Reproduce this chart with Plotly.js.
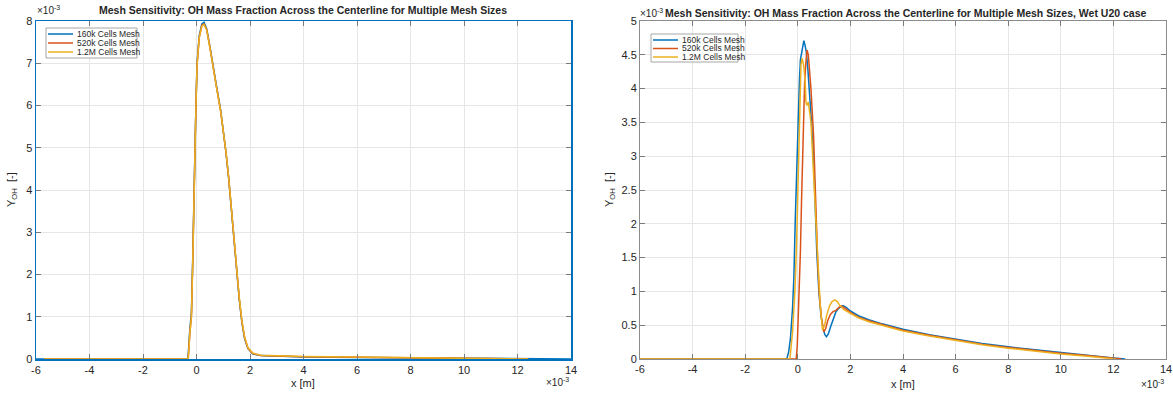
<!DOCTYPE html>
<html>
<head>
<meta charset="utf-8">
<script src="https://cdn.plot.ly/plotly-3.0.1.min.js"></script>
<style>html,body{margin:0;padding:0;background:#fff;}#chart{width:1173px;height:394px;}</style>
</head>
<body>
<div id="chart"></div>
<script>
// ---- Data (x in 1e-3 m, Y_OH in 1e-3) ----
// Left chart: Mesh sensitivity (dry case)
const leftX160 = [-6, -0.32, -0.25, -0.19, -0.14, -0.1, -0.05, -0.02, 0.02, 0.1, 0.2, 0.28, 0.38, 0.5, 0.6, 0.75, 0.9, 1.0, 1.1, 1.2, 1.3, 1.4, 1.5, 1.6, 1.7, 1.8, 1.92, 2.1, 2.4, 3, 4, 6, 8, 10, 12, 14];
const leftY160 = [0, 0, 0.7, 1.1, 2.4, 4.0, 5.2, 6.0, 7.0, 7.65, 7.93, 7.97, 7.82, 7.4, 6.98, 6.45, 5.9, 5.45, 4.9, 4.3, 3.55, 2.8, 2.1, 1.4, 0.85, 0.48, 0.25, 0.12, 0.08, 0.065, 0.05, 0.035, 0.025, 0.015, 0.005, 0];
const leftX520 = [-5.7, -0.31, -0.25, -0.19, -0.14, -0.1, -0.05, -0.02, 0.02, 0.1, 0.2, 0.28, 0.38, 0.5, 0.6, 0.75, 0.9, 1.0, 1.1, 1.2, 1.3, 1.4, 1.5, 1.6, 1.7, 1.8, 1.92, 2.1, 2.4, 3, 4, 6, 8, 10, 12, 12.4];
const leftY520 = [0, 0, 0.6, 1.0, 2.3, 3.9, 5.1, 6.0, 6.95, 7.6, 7.9, 7.93, 7.8, 7.38, 6.96, 6.43, 5.88, 5.44, 4.9, 4.3, 3.56, 2.82, 2.12, 1.42, 0.87, 0.5, 0.26, 0.13, 0.085, 0.07, 0.055, 0.04, 0.03, 0.02, 0.01, 0];
const leftX12M = [-5.7, -0.31, -0.25, -0.19, -0.14, -0.1, -0.05, -0.02, 0.02, 0.1, 0.2, 0.28, 0.38, 0.5, 0.6, 0.75, 0.9, 1.0, 1.1, 1.2, 1.3, 1.4, 1.5, 1.6, 1.7, 1.8, 1.92, 2.1, 2.4, 3, 4, 6, 8, 10, 12, 12.4];
const leftY12M = [0, 0, 0.6, 1.0, 2.3, 3.9, 5.1, 6.0, 6.95, 7.6, 7.88, 7.92, 7.79, 7.37, 6.95, 6.42, 5.88, 5.44, 4.91, 4.32, 3.58, 2.84, 2.14, 1.44, 0.89, 0.52, 0.27, 0.14, 0.09, 0.075, 0.06, 0.045, 0.032, 0.022, 0.012, 0];

// Right chart: Wet U20 case
const rightX160 = [-6, -0.42, -0.35, -0.28, -0.2, -0.15, -0.1, -0.06, -0.02, 0.02, 0.06, 0.1, 0.15, 0.2, 0.23, 0.27, 0.32, 0.38, 0.45, 0.52, 0.6, 0.66, 0.72, 0.8, 0.88, 0.96, 1.03, 1.09, 1.16, 1.25, 1.35, 1.45, 1.55, 1.65, 1.72, 1.85, 2.0, 2.3, 2.7, 3.2, 4.0, 5.0, 6.0, 7.0, 8.0, 9.0, 10.0, 11.0, 12.0, 12.45];
const rightY160 = [0, 0, 0.1, 0.3, 0.75, 1.2, 2.0, 2.6, 3.0, 3.6, 4.1, 4.43, 4.55, 4.62, 4.71, 4.65, 4.55, 4.3, 3.95, 3.5, 2.97, 2.2, 1.6, 1.0, 0.65, 0.45, 0.36, 0.33, 0.37, 0.48, 0.6, 0.7, 0.75, 0.78, 0.79, 0.76, 0.71, 0.64, 0.58, 0.52, 0.44, 0.36, 0.29, 0.23, 0.18, 0.135, 0.095, 0.055, 0.015, 0];
const rightX520 = [-6, -0.06, -0.02, 0.02, 0.06, 0.1, 0.14, 0.18, 0.22, 0.26, 0.3, 0.35, 0.4, 0.45, 0.5, 0.55, 0.6, 0.65, 0.7, 0.76, 0.82, 0.9, 0.99, 1.06, 1.14, 1.24, 1.34, 1.45, 1.55, 1.66, 1.8, 2.0, 2.3, 2.7, 3.2, 4, 5, 6, 7, 8, 9, 10, 11, 12, 12.3];
const rightY520 = [0, 0, 0.2, 0.6, 1.0, 1.6, 2.3, 3.0, 3.57, 4.1, 4.35, 4.57, 4.5, 4.3, 4.0, 3.65, 3.3, 2.7, 2.07, 1.4, 0.95, 0.6, 0.4, 0.45, 0.57, 0.66, 0.7, 0.72, 0.76, 0.785, 0.75, 0.69, 0.62, 0.565, 0.51, 0.425, 0.35, 0.28, 0.22, 0.17, 0.125, 0.085, 0.05, 0.01, 0];
const rightX12M = [-6, -0.3, -0.2, -0.11, -0.04, 0.0, 0.04, 0.08, 0.12, 0.16, 0.22, 0.28, 0.31, 0.35, 0.4, 0.5, 0.58, 0.66, 0.72, 0.78, 0.85, 0.94, 1.02, 1.1, 1.2, 1.3, 1.41, 1.5, 1.6, 1.75, 2.0, 2.3, 2.7, 3.2, 4, 5, 6, 7, 8, 9, 10, 11, 11.8, 12.1];
const rightY12M = [0, 0, 0.4, 1.0, 1.8, 2.4, 3.1, 4.0, 4.35, 4.45, 4.35, 4.1, 3.8, 3.75, 3.8, 3.5, 2.9, 2.3, 1.7, 1.2, 0.8, 0.43, 0.5, 0.65, 0.78, 0.85, 0.875, 0.85, 0.79, 0.73, 0.675, 0.61, 0.55, 0.495, 0.415, 0.34, 0.27, 0.21, 0.16, 0.115, 0.075, 0.04, 0.01, 0];

const seriesNames = ['160k Cells Mesh', '520k Cells Mesh', '1.2M Cells Mesh'];
const seriesColors = ['#0072BD', '#D95319', '#EDB120'];
const xTicks = [-6, -4, -2, 0, 2, 4, 6, 8, 10, 12, 14];
const yTicksLeft = [0, 1, 2, 3, 4, 5, 6, 7, 8];
const yTicksRight = [0, 0.5, 1, 1.5, 2, 2.5, 3, 3.5, 4, 4.5, 5];
const titleLeft = 'Mesh Sensitivity: OH Mass Fraction Across the Centerline for Multiple Mesh Sizes';
const titleRight = 'Mesh Sensitivity: OH Mass Fraction Across the Centerline for Multiple Mesh Sizes, Wet U20 case';

const W = 1173, H = 394;
const FONT = 'Liberation Sans, Arial, sans-serif';
const TXT = '#262626';

function tr(x, y, i, xa, ya) {
  return {x: x, y: y, type: 'scatter', mode: 'lines', name: seriesNames[i],
    line: {color: seriesColors[i], width: 1.5}, xaxis: xa, yaxis: ya, showlegend: false};
}
const data = [
  tr(leftX160, leftY160, 0, 'x', 'y'),
  tr(leftX520, leftY520, 1, 'x', 'y'),
  tr(leftX12M, leftY12M, 2, 'x', 'y'),
  tr(rightX160, rightY160, 0, 'x2', 'y2'),
  tr(rightX520, rightY520, 1, 'x2', 'y2'),
  tr(rightX12M, rightY12M, 2, 'x2', 'y2')
];

function xa(domain, lc, lw) {
  return {domain: domain, range: [-6, 14], tickvals: xTicks, ticktext: xTicks.map(String),
    showgrid: true, gridcolor: '#e6e6e6', zeroline: false, showline: true, linecolor: lc, linewidth: lw,
    mirror: 'allticks', ticks: 'inside', ticklen: 5, tickcolor: '#7a7a7a',
    tickfont: {family: FONT, size: 11, color: TXT}, fixedrange: true};
}
function ya(domain, range, vals, lc, lw, anchor) {
  return {domain: domain, range: range, tickvals: vals, ticktext: vals.map(String), anchor: anchor,
    showgrid: true, gridcolor: '#e6e6e6', zeroline: false, showline: true, linecolor: lc, linewidth: lw,
    mirror: 'allticks', ticks: 'inside', ticklen: 5, tickcolor: '#7a7a7a',
    tickfont: {family: FONT, size: 11, color: TXT}, fixedrange: true};
}
const yDom = [(H - 359) / H, (H - 21) / H];
const lx = [36 / W, 571 / W], rx = [640 / W, 1166 / W];

const ann = [];
const shapes = [];
function addAnn(x, y, text, opts) {
  ann.push(Object.assign({xref: 'paper', yref: 'paper', x: x / W, y: 1 - y / H, text: text, showarrow: false,
    font: {family: FONT, size: 11, color: TXT}, xanchor: 'center', yanchor: 'middle'}, opts || {}));
}
addAnn(303, 10, '<b>' + titleLeft + '</b>', {font: {family: FONT, size: 10.5, color: TXT}});
addAnn(906, 13, '<b>' + titleRight + '</b>', {font: {family: FONT, size: 10.5, color: TXT}});
addAnn(35, 10, '×10<sup>-3</sup>', {xanchor: 'left', font: {family: FONT, size: 10, color: TXT}});
addAnn(638, 13, '×10<sup>-3</sup>', {xanchor: 'left', font: {family: FONT, size: 10, color: TXT}});
addAnn(571, 382, '×10<sup>-3</sup>', {xanchor: 'right', font: {family: FONT, size: 10, color: TXT}});
addAnn(1166, 384, '×10<sup>-3</sup>', {xanchor: 'right', font: {family: FONT, size: 10, color: TXT}});
addAnn(303, 383, 'x [m]');
addAnn(903, 384, 'x [m]');
addAnn(12, 190, 'Y<sub>OH</sub>  [-]', {textangle: -90});
addAnn(610, 190, 'Y<sub>OH</sub>  [-]', {textangle: -90});

// manual legends (MATLAB-like compact boxes)
function legend(x0, y0, x1, y1, rows, lineX0, lineX1, textX) {
  shapes.push({type: 'rect', xref: 'paper', yref: 'paper', x0: x0 / W, x1: x1 / W, y0: 1 - y0 / H, y1: 1 - y1 / H,
    line: {color: '#a6a6a6', width: 1}, fillcolor: '#ffffff', layer: 'above'});
  rows.forEach(function (ry, i) {
    shapes.push({type: 'line', xref: 'paper', yref: 'paper', x0: lineX0 / W, x1: lineX1 / W, y0: 1 - ry / H, y1: 1 - ry / H,
      line: {color: seriesColors[i], width: 1.5}, layer: 'above'});
    addAnn(textX, ry, seriesNames[i], {xanchor: 'left', font: {family: FONT, size: 8.5, color: TXT}});
  });
}
legend(46, 28, 137, 58, [34, 43, 52], 48, 73, 75);
legend(651, 34, 738, 62, [40, 48.5, 57], 653, 678, 680);

const layout = {
  width: W, height: H, margin: {l: 0, r: 0, t: 0, b: 0},
  paper_bgcolor: '#ffffff', plot_bgcolor: '#ffffff', showlegend: false,
  xaxis: Object.assign(xa(lx, '#0072BD', 1.5), {anchor: 'y'}),
  yaxis: ya(yDom, [0, 8], yTicksLeft, '#0072BD', 1.5, 'x'),
  xaxis2: Object.assign(xa(rx, '#8c8c8c', 1), {anchor: 'y2'}),
  yaxis2: ya(yDom, [0, 5], yTicksRight, '#8c8c8c', 1, 'x2'),
  shapes: shapes,
  annotations: ann
};
Plotly.newPlot('chart', data, layout, {displayModeBar: false, staticPlot: true});
</script>
</body>
</html>
